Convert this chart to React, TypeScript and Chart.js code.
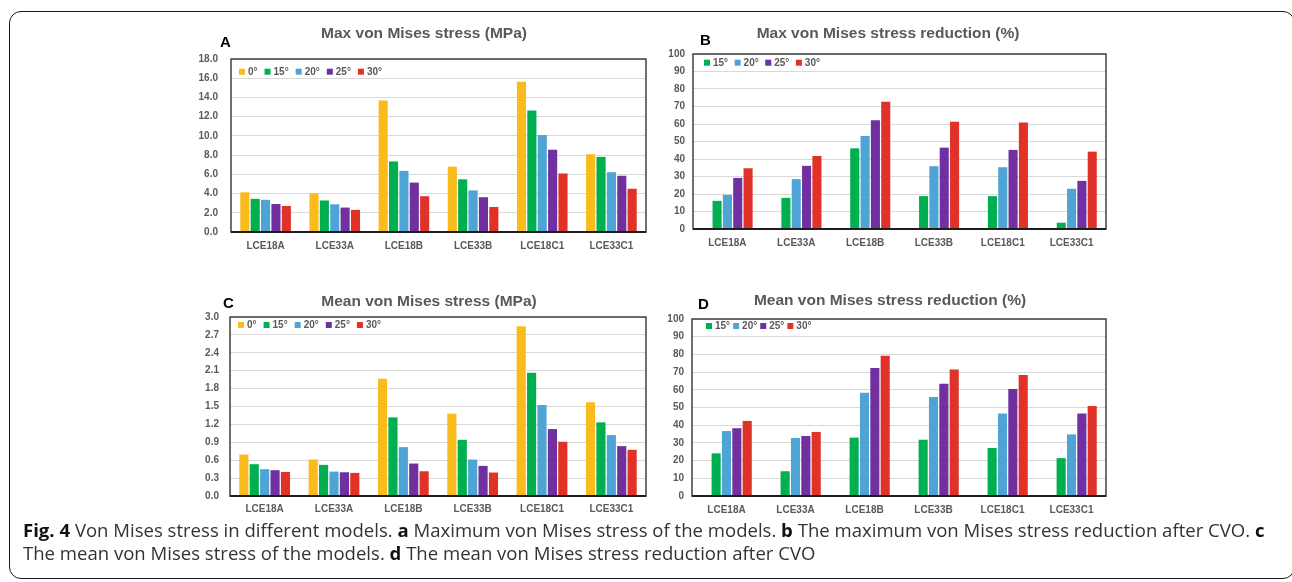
import React, { useEffect, useRef, useState } from 'react';
import { Chart, registerables } from 'chart.js';

Chart.register(...registerables);

const FONT = '"Liberation Sans", Arial, sans-serif';

// ---------- data ----------
const categories = ['LCE18A', 'LCE33A', 'LCE18B', 'LCE33B', 'LCE18C1', 'LCE33C1'];
const angleLabels = ['0°', '15°', '20°', '25°', '30°'];
const seriesColors = ['#F9BC1C', '#00AF50', '#4EA4D4', '#7030A0', '#E03228'];

// A: Max von Mises stress (MPa)
const maxStress0 = [4.13, 4.03, 13.67, 6.8, 15.63, 8.09];
const maxStress15 = [3.45, 3.28, 7.34, 5.48, 12.65, 7.81];
const maxStress20 = [3.35, 2.88, 6.36, 4.33, 10.08, 6.22];
const maxStress25 = [2.91, 2.54, 5.14, 3.62, 8.56, 5.85];
const maxStress30 = [2.71, 2.3, 3.72, 2.6, 6.09, 4.5];
const maxStressTicks = [0, 2, 4, 6, 8, 10, 12, 14, 16, 18];

// B: Max von Mises stress reduction (%)
const noReduction0 = [null, null, null, null, null, null];
const maxReduction15 = [16.1, 17.8, 46.1, 18.8, 18.8, 3.6];
const maxReduction20 = [19.5, 28.5, 53.1, 35.9, 35.3, 23.0];
const maxReduction25 = [29.2, 36.1, 62.2, 46.5, 45.2, 27.5];
const maxReduction30 = [34.7, 41.7, 72.7, 61.3, 60.9, 44.2];
const reductionTicks = [0, 10, 20, 30, 40, 50, 60, 70, 80, 90, 100];

// C: Mean von Mises stress (MPa)
const meanStress0 = [0.695, 0.611, 1.963, 1.38, 2.843, 1.57];
const meanStress15 = [0.533, 0.522, 1.318, 0.942, 2.064, 1.234];
const meanStress20 = [0.449, 0.409, 0.819, 0.611, 1.526, 1.021];
const meanStress25 = [0.432, 0.398, 0.544, 0.505, 1.122, 0.836];
const meanStress30 = [0.404, 0.387, 0.415, 0.393, 0.909, 0.774];
const meanStressTicks = [0, 0.3, 0.6, 0.9, 1.2, 1.5, 1.8, 2.1, 2.4, 2.7, 3.0];

// D: Mean von Mises stress reduction (%)
const meanReduction15 = [24.1, 14.0, 33.0, 31.8, 27.1, 21.4];
const meanReduction20 = [36.7, 32.8, 58.3, 55.9, 46.6, 34.8];
const meanReduction25 = [38.3, 33.9, 72.3, 63.4, 60.4, 46.6];
const meanReduction30 = [42.4, 36.2, 79.2, 71.4, 68.4, 50.9];

// ---------- layout ----------
const panels = [
  {
    key: 'A',
    title: 'Max von Mises stress (MPa)',
    series: [maxStress0, maxStress15, maxStress20, maxStress25, maxStress30],
    ticks: maxStressTicks,
    decimals: 1,
    box: { left: 170, top: 40, width: 480, height: 225 },
    plot: { left: 231, top: 54, right: 646, bottom: 232 },
    yPad: 13,
    xPad: 8,
    legend: { dx: 8, dy: 12.7, gap: 7 },
    titlePos: { x: 424, y: 33 },
    letterPos: { x: 220, y: 42 },
  },
  {
    key: 'B',
    title: 'Max von Mises stress reduction (%)',
    series: [noReduction0, maxReduction15, maxReduction20, maxReduction25, maxReduction30],
    ticks: reductionTicks,
    decimals: 0,
    box: { left: 655, top: 40, width: 465, height: 225 },
    plot: { left: 693, top: 54, right: 1106, bottom: 229 },
    yPad: 8,
    xPad: 8,
    legend: { dx: 11, dy: 8.7, gap: 6.5 },
    titlePos: { x: 888, y: 33 },
    letterPos: { x: 700, y: 40 },
  },
  {
    key: 'C',
    title: 'Mean von Mises stress (MPa)',
    series: [meanStress0, meanStress15, meanStress20, meanStress25, meanStress30],
    ticks: meanStressTicks,
    decimals: 1,
    box: { left: 170, top: 300, width: 480, height: 225 },
    plot: { left: 230, top: 317, right: 646, bottom: 496 },
    yPad: 11,
    xPad: 7,
    legend: { dx: 8, dy: 8, gap: 7 },
    titlePos: { x: 429, y: 301 },
    letterPos: { x: 223, y: 302.5 },
  },
  {
    key: 'D',
    title: 'Mean von Mises stress reduction (%)',
    series: [noReduction0, meanReduction15, meanReduction20, meanReduction25, meanReduction30],
    ticks: reductionTicks,
    decimals: 0,
    box: { left: 655, top: 300, width: 465, height: 225 },
    plot: { left: 692, top: 319, right: 1106, bottom: 496 },
    yPad: 8,
    xPad: 8,
    legend: { dx: 14, dy: 7, gap: 3 },
    titlePos: { x: 890, y: 300 },
    letterPos: { x: 698, y: 303.5 },
  },
];

const TEXT_GREY = '#595959';

const framePlugin = {
  id: 'plotFrame',
  afterDraw(chart: any) {
    const { ctx, chartArea: a } = chart;
    ctx.save();
    ctx.strokeStyle = '#404040';
    ctx.lineWidth = 1.5;
    ctx.strokeRect(a.left, a.top, a.right - a.left, a.bottom - a.top);
    ctx.strokeStyle = '#1E1E1E';
    ctx.lineWidth = 2;
    ctx.beginPath();
    ctx.moveTo(a.left, a.bottom);
    ctx.lineTo(a.right, a.bottom);
    ctx.stroke();
    ctx.restore();
  },
};

function makeLegendPlugin(opt: { dx: number; dy: number; gap: number }) {
  return {
    id: 'insideLegend',
    afterDraw(chart: any) {
      const { ctx, chartArea: a } = chart;
      ctx.save();
      ctx.font = `bold 10px ${FONT}`;
      ctx.textBaseline = 'middle';
      ctx.textAlign = 'left';
      let x = a.left + opt.dx;
      const y = a.top + opt.dy;
      chart.data.datasets.forEach((ds: any) => {
        if (ds.data.every((v: any) => v == null)) return;
        ctx.fillStyle = ds.backgroundColor;
        ctx.fillRect(x, y - 3, 6, 6);
        ctx.fillStyle = TEXT_GREY;
        ctx.fillText(ds.label, x + 9, y + 0.5);
        x += 9 + ctx.measureText(ds.label).width + opt.gap;
      });
      ctx.restore();
    },
  };
}

function BarPanel({ cfg }: { cfg: any }) {
  const ref = useRef<HTMLCanvasElement>(null);
  const { box, plot } = cfg;
  useEffect(() => {
    if (!ref.current) return;
    const chart = new Chart(ref.current, {
      type: 'bar',
      data: {
        labels: categories,
        datasets: cfg.series.map((data: any, i: number) => ({
          label: angleLabels[i],
          data,
          backgroundColor: seriesColors[i],
          borderWidth: 0,
          categoryPercentage: 0.75,
          barPercentage: 0.88,
        })),
      },
      options: {
        animation: false,
        responsive: false,
        maintainAspectRatio: false,
        devicePixelRatio: 1,
        layout: {
          padding: {
            left: 0,
            top: plot.top - box.top,
            right: box.left + box.width - plot.right,
            bottom: 0,
          },
        },
        scales: {
          x: {
            grid: { display: false, drawTicks: false },
            border: { display: false },
            ticks: {
              padding: cfg.xPad,
              color: TEXT_GREY,
              font: { family: FONT, size: 10, weight: 'bold' },
              maxRotation: 0,
              autoSkip: false,
            },
            afterFit: (s: any) => {
              s.height = box.top + box.height - plot.bottom;
            },
          },
          y: {
            min: 0,
            max: cfg.ticks[cfg.ticks.length - 1],
            afterBuildTicks: (s: any) => {
              s.ticks = cfg.ticks.map((v: number) => ({ value: v }));
            },
            grid: { color: '#D9D9D9', drawTicks: false, lineWidth: 1 },
            border: { display: false },
            ticks: {
              padding: cfg.yPad,
              color: TEXT_GREY,
              font: { family: FONT, size: 10, weight: 'bold' },
              callback: (v: any) => Number(v).toFixed(cfg.decimals),
            },
            afterFit: (s: any) => {
              s.width = plot.left - box.left;
            },
          },
        },
        plugins: {
          legend: { display: false },
          tooltip: { enabled: false },
          title: { display: false },
        },
      } as any,
      plugins: [framePlugin, makeLegendPlugin(cfg.legend)],
    });
    return () => chart.destroy();
  }, [cfg]);
  return (
    <canvas
      ref={ref}
      width={box.width}
      height={box.height}
      style={{ position: 'absolute', left: box.left, top: box.top, width: box.width, height: box.height }}
    />
  );
}

const CAPTION_WIDTH = 1242;

export default function App() {
  const line1 = useRef<HTMLDivElement>(null);
  const [scale, setScale] = useState(1);
  useEffect(() => {
    const fit = () => {
      if (line1.current) {
        const w = line1.current.offsetWidth;
        if (w > 0) setScale(CAPTION_WIDTH / w);
      }
    };
    fit();
    (document as any).fonts?.ready?.then(fit);
  }, []);

  const capStyle: React.CSSProperties = {
    position: 'absolute',
    left: 23,
    display: 'inline-block',
    whiteSpace: 'nowrap',
    fontFamily: '"Open Sans", sans-serif',
    fontSize: 18,
    lineHeight: '18px',
    color: '#333333',
    transformOrigin: '0 0',
    transform: `scaleX(${scale})`,
  };
  const b: React.CSSProperties = { fontWeight: 700, color: '#111' };

  return (
    <div style={{ position: 'fixed', left: 0, top: 0, width: 1292, height: 582, overflow: 'hidden', background: '#fff' }}>
      <div
        style={{
          position: 'absolute',
          left: 9,
          top: 11,
          width: 1286,
          height: 568,
          border: '1.5px solid #1a1a1a',
          borderRadius: 12,
          boxSizing: 'border-box',
        }}
      />
      {panels.map((p) => (
        <React.Fragment key={p.key}>
          <BarPanel cfg={p} />
          <div
            style={{
              position: 'absolute',
              left: p.titlePos.x,
              top: p.titlePos.y - 9,
              transform: 'translateX(-50%)',
              whiteSpace: 'nowrap',
              font: `bold 15.5px ${FONT}`,
              lineHeight: '18px',
              color: TEXT_GREY,
            }}
          >
            {p.title}
          </div>
          <div
            style={{
              position: 'absolute',
              left: p.letterPos.x,
              top: p.letterPos.y - 9,
              font: `bold 15px ${FONT}`,
              lineHeight: '18px',
              color: '#000',
            }}
          >
            {p.key}
          </div>
        </React.Fragment>
      ))}
      <div ref={line1} style={{ ...capStyle, top: 521 }}>
        <span style={b}>Fig. 4</span> Von Mises stress in different models. <span style={b}>a</span> Maximum von Mises
        stress of the models. <span style={b}>b</span> The maximum von Mises stress reduction after CVO.{' '}
        <span style={b}>c</span>
      </div>
      <div style={{ ...capStyle, top: 544 }}>
        The mean von Mises stress of the models. <span style={b}>d</span> The mean von Mises stress reduction after CVO
      </div>
    </div>
  );
}
